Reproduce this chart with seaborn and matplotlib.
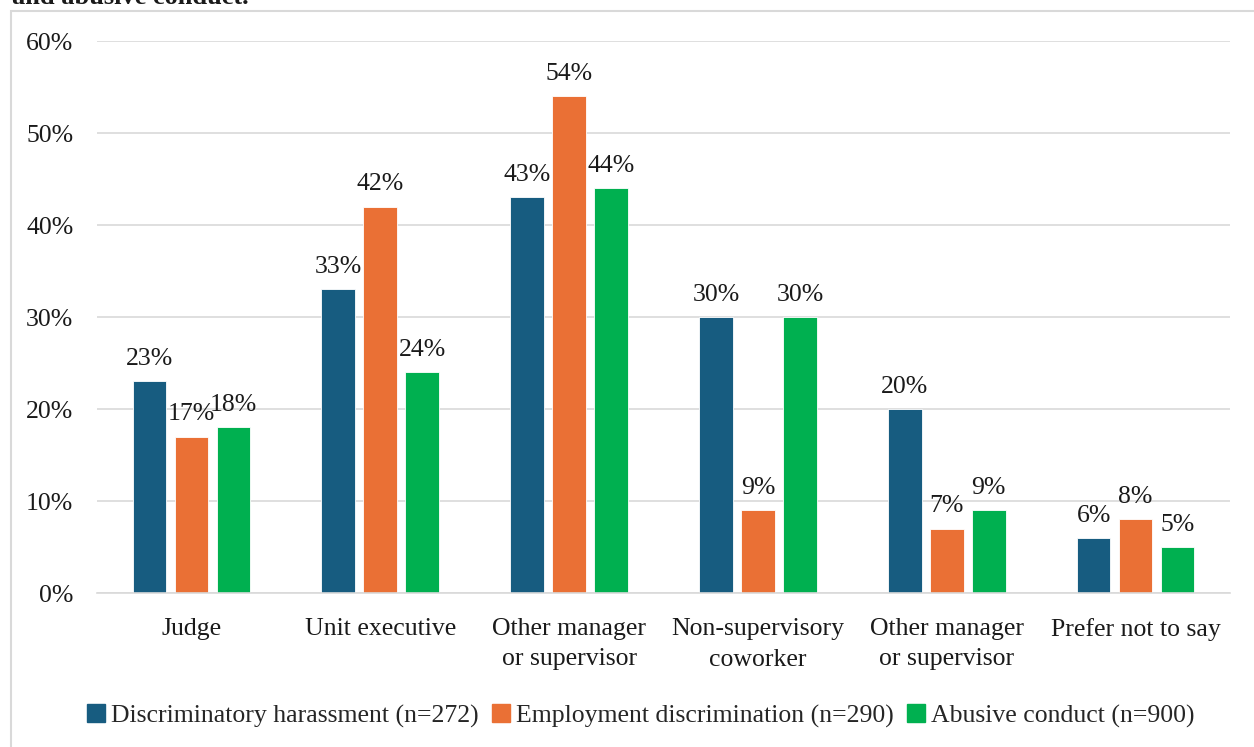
import pandas as pd
import numpy as np
import matplotlib.pyplot as plt
import matplotlib.patches as mpatches
import seaborn as sns

# ================== DATA ==================

categories = ["Judge", "Unit executive", "Other manager\nor supervisor",
              "Non-supervisory\ncoworker", "Other manager\nor supervisor",
              "Prefer not to say"]
series = ["Discriminatory harassment (n=272)",
          "Employment discrimination (n=290)",
          "Abusive conduct (n=900)"]
harassment = [23, 33, 43, 30, 20, 6]
discrimination = [17, 42, 54, 9, 7, 8]
abusive = [18, 24, 44, 30, 9, 5]
y_ticks = [0, 10, 20, 30, 40, 50, 60]

colors = ["#175C80", "#EA7035", "#00B050"]

# two categories share a name, so key the bars by position
cat_ids = [f"c{i}" for i in range(len(categories))]
df = pd.DataFrame({
    "cat": cat_ids * 3,
    "series": np.repeat(series, len(categories)),
    "value": harassment + discrimination + abusive,
})

# ================== PLOT ==================

sns.set_style("white")
plt.rcParams["font.family"] = ["Liberation Serif", "DejaVu Serif"]
FS = 18.5

fig = plt.figure(figsize=(12.54, 7.47), dpi=100)
ax = fig.add_axes([97 / 1254, 1 - 593 / 747, 1133 / 1254, 552 / 747])

sns.barplot(data=df, x="cat", y="value", hue="series", order=cat_ids,
            hue_order=series, palette=colors, width=0.667, gap=0.2,
            edgecolor="white", linewidth=0.6, saturation=1, ax=ax,
            legend=False)

for container in ax.containers:
    ax.bar_label(container, labels=[f"{v:.0f}%" for v in container.datavalues],
                 padding=8, fontsize=FS, color="#1a1a1a")

ax.set_ylim(0, 60)
ax.set_xlim(-0.5, len(categories) - 0.5)
ax.set_yticks(y_ticks)
ax.set_yticklabels([f"{t}%" for t in y_ticks])
ax.set_xticks(range(len(categories)))
ax.set_xticklabels(categories, linespacing=1.5)
ax.tick_params(axis="both", length=0, labelsize=FS, colors="#1a1a1a")
ax.tick_params(axis="y", pad=17)
ax.tick_params(axis="x", pad=18)
ax.set_xlabel("")
ax.set_ylabel("")
ax.grid(axis="y", color="#D9D9D9", linewidth=1.2)
ax.set_axisbelow(True)
for s in ["top", "right", "left"]:
    ax.spines[s].set_visible(False)
ax.spines["bottom"].set_color("#D9D9D9")
ax.spines["bottom"].set_linewidth(1.2)

handles = [mpatches.Patch(color=c, label=s) for c, s in zip(colors, series)]
fig.legend(handles=handles, loc="center", bbox_to_anchor=(0.511, 1 - 716 / 747),
           ncol=3, frameon=False, fontsize=FS, handlelength=0.7,
           handleheight=0.7, handletextpad=0.25, columnspacing=0.5)

# outer chart border and clipped caption from the page
fig.patches.append(mpatches.Rectangle((11 / 1254, -0.05), 1.1, 1 - 11 / 747 + 0.05,
                                      transform=fig.transFigure, fill=False,
                                      edgecolor="#D9D9D9", linewidth=1.5))
fig.text(12 / 1254, 1 - 4 / 747, "and abusive conduct.", fontsize=19,
         fontweight="bold", va="baseline", ha="left", color="#1a1a1a")

plt.savefig("out.png", dpi=100)
